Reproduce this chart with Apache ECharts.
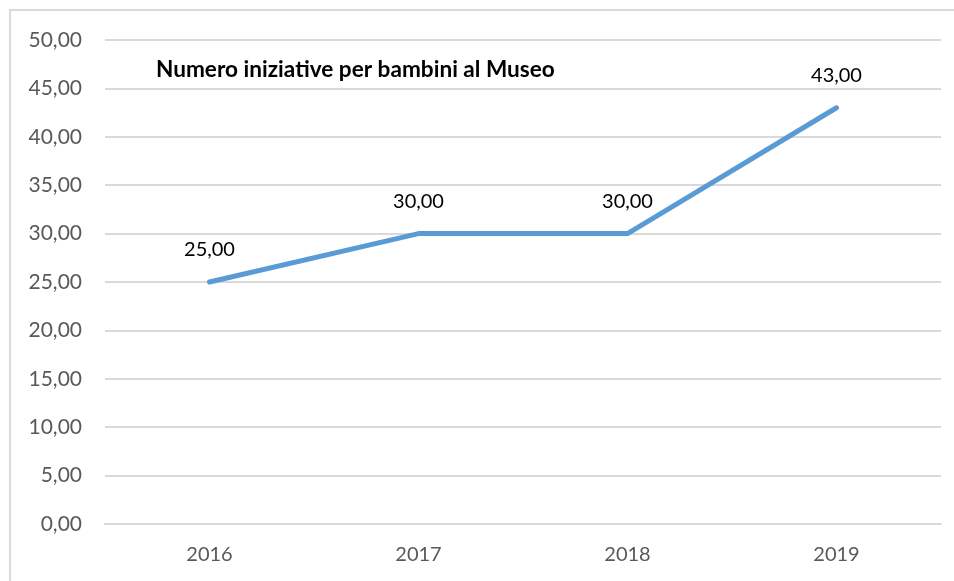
<!DOCTYPE html>
<html><head><meta charset="utf-8">
<script src="https://cdn.jsdelivr.net/npm/echarts@6/dist/echarts.min.js"></script>
<style>html,body{margin:0;padding:0;background:#fff}#c{width:954px;height:581px}</style>
</head><body><div id="c"></div>
<script>
const categories = ['2016','2017','2018','2019'];
const values = [25, 30, 30, 43];
const titleText = 'Numero iniziative per bambini al Museo';
const fmt = v => v.toFixed(2).replace('.', ',');
const FONT = 'Lato, "Open Sans", sans-serif';
const chart = echarts.init(document.getElementById('c'), null, {renderer:'canvas'});
chart.setOption({
  animation:false,
  backgroundColor:'#fff',
  graphic:[{type:'rect', shape:{x:10,y:10,width:980,height:620}, style:{fill:'none', stroke:'#d9d9d9', lineWidth:2}, z:-1}],
  title:{text:titleText, left:156, top:58, padding:0, textStyle:{fontFamily:FONT, fontSize:22.6, fontWeight:'bold', color:'#000'}},
  grid:{left:105, right:13, top:40, bottom:57},
  xAxis:{type:'category', data:categories, boundaryGap:true,
    axisLine:{show:true, lineStyle:{color:'#d9d9d9', width:2}}, axisTick:{show:false},
    axisLabel:{color:'#595959', fontSize:20, fontFamily:FONT, margin:21}},
  yAxis:{type:'value', min:0, max:50, interval:5,
    axisLine:{show:false}, axisTick:{show:false},
    splitLine:{lineStyle:{color:'#d9d9d9', width:2}},
    axisLabel:{color:'#595959', fontSize:21, fontFamily:FONT, margin:23, formatter:fmt}},
  series:[{type:'line', data:values, symbol:'circle', symbolSize:2, showSymbol:true,
    itemStyle:{color:'#5b9bd5'},
    lineStyle:{color:'#5b9bd5', width:5, cap:'round', join:'round'},
    label:{show:true, position:'top', distance:21, color:'#000', fontSize:20, fontFamily:FONT, formatter:p=>fmt(p.value)}}]
});
</script></body></html>
